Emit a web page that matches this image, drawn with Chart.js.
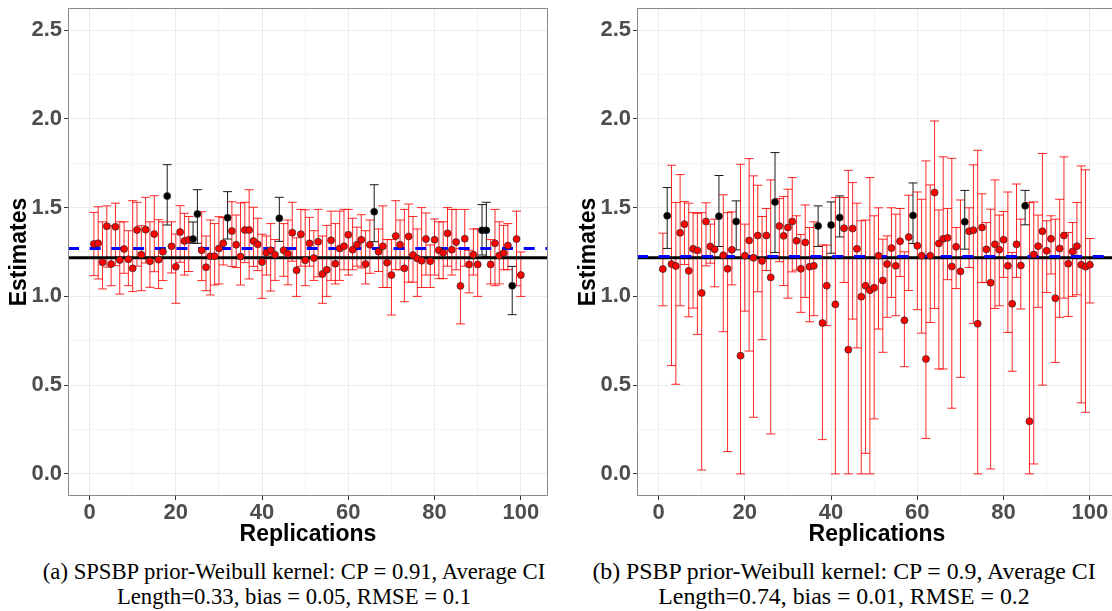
<!DOCTYPE html>
<html>
<head>
<meta charset="utf-8">
<script src="https://cdn.jsdelivr.net/npm/chart.js@4.4.1/dist/chart.umd.min.js"></script>
<style>
  html, body { margin: 0; padding: 0; background: #fff; overflow: hidden; }
  body { width: 1112px; height: 611px; position: relative; }
  .panel { position: absolute; top: 0; }
  #leftWrap { left: 0; }
  #rightWrap { left: 569px; }
  .caption {
    position: absolute;
    font-family: 'Liberation Serif', 'Times New Roman', serif;
    font-size: 22.7px;
    line-height: 25px;
    text-align: center;
    color: #000;
    white-space: nowrap;
  }
</style>
</head>
<body>
<div class="panel" id="leftWrap"><canvas id="leftChart" width="556" height="556"></canvas></div>
<div class="panel" id="rightWrap"><canvas id="rightChart" width="556" height="556"></canvas></div>
<div class="caption" style="left:0;width:588px;top:559px;">(a) SPSBP prior-Weibull kernel: CP = 0.91, Average CI<br>Length=0.33, bias = 0.05, RMSE = 0.1</div>
<div class="caption" style="left:579px;width:530px;top:559px;font-size:23.8px;">(b) PSBP prior-Weibull kernel: CP = 0.9, Average CI<br>Length=0.74, bias = 0.01, RMSE = 0.2</div>
<script>
// replication index 1..100
const reps = Array.from({ length: 100 }, (_, k) => k + 1);

const trueValue = 1.218;
const leftMean = 1.27;
const rightMean = 1.224;

// (a) SPSBP prior
const leftEst = [
  1.295, 1.299, 1.192, 1.395, 1.182, 1.392, 1.205, 1.267, 1.209, 1.158,
  1.374, 1.235, 1.376, 1.198, 1.351, 1.207, 1.252, 1.565, 1.282, 1.167,
  1.362, 1.312, 1.319, 1.323, 1.464, 1.26, 1.164, 1.226, 1.226, 1.27,
  1.299, 1.443, 1.368, 1.291, 1.224, 1.374, 1.374, 1.312, 1.293, 1.194,
  1.246, 1.26, 1.235, 1.44, 1.26, 1.24, 1.359, 1.147, 1.35, 1.203,
  1.299, 1.216, 1.308, 1.126, 1.15, 1.316, 1.184, 1.27, 1.282, 1.347,
  1.263, 1.291, 1.319, 1.182, 1.291, 1.477, 1.252, 1.282, 1.19, 1.12,
  1.34, 1.291, 1.158, 1.338, 1.233, 1.214, 1.201, 1.323, 1.198, 1.319,
  1.26, 1.246, 1.355, 1.263, 1.306, 1.059, 1.325, 1.18, 1.235, 1.18,
  1.372, 1.372, 1.18, 1.299, 1.23, 1.244, 1.286, 1.06, 1.323, 1.12
];
const leftLow = [
  1.117, 1.098, 1.042, 1.165, 1.06, 1.173, 1.013, 1.13, 1.06, 1.027,
  1.17, 1.032, 1.188, 1.051, 1.139, 1.045, 1.089, 1.402, 1.132, 0.961,
  1.192, 1.12, 1.14, 1.299, 1.299, 1.089, 1.032, 1.008, 1.064, 1.07,
  1.177, 1.323, 1.169, 1.162, 1.064, 1.19, 1.098, 1.169, 1.145, 0.989,
  1.12, 1.03, 1.09, 1.31, 1.113, 1.065, 1.198, 1.0, 1.17, 1.06,
  1.17, 1.09, 1.11, 0.961, 1.0, 1.09, 1.07, 1.09, 1.15, 1.12,
  1.15, 1.17, 1.16, 1.07, 1.13, 1.308, 1.14, 1.05, 1.05, 0.895,
  1.15, 1.15, 0.97, 1.08, 1.08, 1.0, 1.05, 1.12, 1.05, 1.12,
  1.1, 1.1, 1.17, 1.12, 1.15, 0.845, 1.17, 1.02, 1.12, 1.0,
  1.233, 1.225, 1.07, 1.06, 1.07, 1.15, 1.15, 0.897, 1.06, 1.0
];
const leftHigh = [
  1.473, 1.505, 1.42, 1.51, 1.40, 1.525, 1.42, 1.42, 1.37, 1.539,
  1.53, 1.398, 1.558, 1.42, 1.567, 1.432, 1.42, 1.742, 1.42, 1.351,
  1.511, 1.468, 1.45, 1.419, 1.601, 1.477, 1.34, 1.43, 1.41, 1.449,
  1.445, 1.59, 1.533, 1.458, 1.526, 1.53, 1.601, 1.502, 1.44, 1.35,
  1.34, 1.41, 1.32, 1.558, 1.41, 1.43, 1.53, 1.33, 1.49, 1.488,
  1.445, 1.37, 1.49, 1.34, 1.40, 1.48, 1.41, 1.48, 1.49, 1.49,
  1.44, 1.39, 1.46, 1.37, 1.43, 1.629, 1.38, 1.51, 1.32, 1.32,
  1.539, 1.43, 1.49, 1.52, 1.45, 1.38, 1.50, 1.47, 1.29, 1.436,
  1.42, 1.42, 1.50, 1.49, 1.49, 1.27, 1.49, 1.26, 1.38, 1.38,
  1.517, 1.53, 1.32, 1.49, 1.42, 1.40, 1.41, 1.169, 1.48, 1.25
];

// (b) PSBP prior
const rightEst = [
  1.154, 1.454, 1.182, 1.171, 1.358, 1.407, 1.144, 1.268, 1.259, 1.019,
  1.422, 1.281, 1.265, 1.452, 1.231, 1.155, 1.262, 1.422, 0.666, 1.229,
  1.315, 1.217, 1.343, 1.2, 1.343, 1.107, 1.532, 1.396, 1.341, 1.388,
  1.422, 1.313, 1.155, 1.304, 1.167, 1.172, 1.397, 0.85, 1.06, 1.402,
  0.955, 1.444, 1.384, 0.7, 1.382, 1.268, 0.998, 1.06, 1.035, 1.049,
  1.229, 1.09, 1.182, 1.272, 1.172, 1.311, 0.865, 1.334, 1.456, 1.285,
  1.229, 0.647, 1.229, 1.585, 1.298, 1.324, 1.33, 1.168, 1.279, 1.141,
  1.42, 1.367, 1.373, 0.846, 1.388, 1.265, 1.077, 1.293, 1.263, 1.319,
  1.172, 0.958, 1.293, 1.174, 1.51, 0.296, 1.236, 1.283, 1.367, 1.257,
  1.324, 0.99, 1.27, 1.343, 1.184, 1.253, 1.283, 1.178, 1.167, 1.178
];
const rightLow = [
  0.947, 1.27, 0.61, 0.505, 0.947, 1.18, 0.885, 0.934, 0.786, 0.022,
  1.172, 1.187, 1.054, 1.281, 0.801, 0.126, 1.065, 1.262, 0.0, 0.917,
  0.692, 0.319, 1.026, 0.756, 1.146, 0.225, 1.247, 1.195, 1.061, 0.99,
  1.138, 1.148, 0.91, 0.994, 0.857, 0.891, 1.281, 0.193, 0.835, 1.243,
  0.0, 1.335, 1.078, 0.0, 0.872, 0.71, 0.0, 0.116, 0.0, 0.31,
  0.816, 0.685, 0.882, 0.994, 0.891, 1.112, 0.604, 1.033, 1.298, 0.925,
  0.793, 0.2, 0.853, 0.932, 0.591, 0.591, 1.094, 0.37, 1.044, 0.544,
  1.266, 1.163, 0.848, 0.0, 1.078, 1.078, 0.028, 0.932, 0.947, 1.107,
  0.797, 0.578, 1.107, 0.929, 1.403, 0.0, 0.056, 0.938, 0.5, 1.022,
  1.126, 0.628, 0.882, 0.99, 0.887, 1.0, 1.009, 0.4, 0.347, 0.963
];
const rightHigh = [
  1.356, 1.613, 1.739, 1.529, 1.686, 1.534, 1.525, 1.472, 1.468, 1.472,
  1.527, 1.407, 1.435, 1.681, 1.572, 1.472, 1.476, 1.538, 1.744, 1.407,
  1.776, 1.679, 1.626, 1.45, 1.495, 1.656, 1.81, 1.551, 1.563, 1.604,
  1.669, 1.454, 1.349, 1.515, 1.388, 1.42, 1.51, 1.289, 1.289, 1.532,
  1.557, 1.566, 1.557, 1.71, 1.641, 1.525, 1.426, 1.43, 1.669, 1.454,
  1.499, 1.322, 1.341, 1.499, 1.463, 1.495, 1.251, 1.57, 1.639, 1.588,
  1.547, 1.763, 1.628, 1.988, 1.487, 1.786, 1.495, 1.778, 1.388, 1.543,
  1.597, 1.499, 1.741, 1.823, 1.578, 1.416, 1.491, 1.656, 1.458, 1.478,
  1.588, 1.247, 1.633, 1.435, 1.597, 1.529, 1.532, 1.458, 1.805, 1.426,
  1.454, 1.435, 1.547, 1.786, 1.36, 1.416, 1.529, 1.735, 1.713, 1.326
];

const X_MIN = -5, X_MAX = 106.3;
const Y_MIN = -0.1245, Y_MAX = 2.6245;

Chart.defaults.font.family = "'Liberation Sans', Arial, Helvetica, sans-serif";

const covers = (lo, hi) => lo <= trueValue && hi >= trueValue;

// vertical CI segments with caps, placed via the chart's scales
const errorBarPlugin = {
  id: 'errbars',
  beforeDatasetsDraw(chart, args, opts) {
    const { ctx, chartArea, scales: { x, y } } = chart;
    ctx.save();
    ctx.beginPath();
    ctx.rect(chartArea.left, chartArea.top, chartArea.width, chartArea.height);
    ctx.clip();
    ctx.lineWidth = 1;
    opts.low.forEach((lo, i) => {
      const hi = opts.high[i];
      const px = x.getPixelForValue(reps[i]);
      const yLo = y.getPixelForValue(lo);
      const yHi = y.getPixelForValue(hi);
      ctx.strokeStyle = covers(lo, hi) ? 'rgba(255,0,0,0.85)' : '#1a1a1a';
      ctx.beginPath();
      ctx.moveTo(px, yLo); ctx.lineTo(px, yHi);
      ctx.moveTo(px - 4.5, yLo); ctx.lineTo(px + 4.5, yLo);
      ctx.moveTo(px - 4.5, yHi); ctx.lineTo(px + 4.5, yHi);
      ctx.stroke();
    });
    ctx.restore();
  }
};

// grey panel frame like ggplot's panel.border
const panelBorder = {
  id: 'panelBorder',
  afterDraw(chart) {
    const { ctx, chartArea: a } = chart;
    ctx.save();
    ctx.strokeStyle = '#8a8a8a';
    ctx.lineWidth = 1;
    ctx.strokeRect(a.left + 0.5, a.top + 0.5, a.width - 1, a.height - 1);
    ctx.restore();
  }
};

function isMultiple(v, step) {
  return Math.abs(v / step - Math.round(v / step)) < 1e-6;
}

function makePanel(id, est, low, high, meanVal) {
  const ctx = document.getElementById(id).getContext('2d');
  const colors = est.map((_, i) => covers(low[i], high[i]) ? '#FF0000' : '#000000');

  new Chart(ctx, {
    type: 'scatter',
    data: {
      datasets: [
        {
          label: 'estimate',
          data: reps.map((r, i) => ({ x: r, y: est[i] })),
          pointBackgroundColor: colors,
          pointBorderColor: '#2a2a2a',
          pointBorderWidth: 0.7,
          pointRadius: 3.5,
          order: 0
        },
        {
          type: 'line',
          label: 'mean',
          data: [{ x: X_MIN, y: meanVal }, { x: X_MAX, y: meanVal }],
          borderColor: '#0000FF',
          borderWidth: 3,
          borderDash: [11, 10.7],
          pointRadius: 0,
          order: 1
        },
        {
          type: 'line',
          label: 'true',
          data: [{ x: X_MIN, y: trueValue }, { x: X_MAX, y: trueValue }],
          borderColor: '#000000',
          borderWidth: 3,
          pointRadius: 0,
          order: 2
        }
      ]
    },
    options: {
      responsive: false,
      animation: false,
      layout: { padding: { left: 6, right: 8, top: 8, bottom: 8 } },
      plugins: {
        legend: { display: false },
        tooltip: { enabled: false },
        errbars: { low: low, high: high }
      },
      scales: {
        x: {
          type: 'linear',
          min: X_MIN,
          max: X_MAX,
          border: { display: false },
          grid: {
            color: c => isMultiple(c.tick.value, 20) ? '#EBEBEB' : '#F4F4F4',
            tickColor: c => isMultiple(c.tick.value, 20) ? '#333333' : 'rgba(0,0,0,0)',
            tickLength: 4
          },
          ticks: {
            stepSize: 10,
            includeBounds: false,
            autoSkip: false,
            maxRotation: 0,
            padding: 0,
            color: '#4D4D4D',
            font: { size: 22, weight: 'bold' },
            callback: v => isMultiple(v, 20) ? String(Math.round(v)) : ''
          },
          title: {
            display: true,
            text: 'Replications',
            color: '#000',
            font: { size: 23, weight: 'bold' },
            padding: { top: 0, bottom: 0 }
          },
          afterFit: s => {
            s.height = 52;
            s.paddingLeft = 0;
            s.paddingRight = 0;
          }
        },
        y: {
          min: Y_MIN,
          max: Y_MAX,
          border: { display: false },
          grid: {
            color: c => isMultiple(c.tick.value, 0.5) ? '#EBEBEB' : '#F4F4F4',
            tickColor: c => isMultiple(c.tick.value, 0.5) ? '#333333' : 'rgba(0,0,0,0)',
            tickLength: 4
          },
          ticks: {
            stepSize: 0.25,
            includeBounds: false,
            autoSkip: false,
            padding: 2,
            color: '#4D4D4D',
            font: { size: 22, weight: 'bold' },
            callback: v => isMultiple(v, 0.5) ? v.toFixed(1) : ''
          },
          title: {
            display: true,
            text: 'Estimates',
            color: '#000',
            font: { size: 23, weight: 'bold' },
            padding: { top: 0, bottom: 0 }
          },
          afterFit: s => {
            s.width = 62;
            s.paddingTop = 0;
            s.paddingBottom = 0;
          }
        }
      }
    },
    plugins: [errorBarPlugin, panelBorder]
  });
}

makePanel('leftChart', leftEst, leftLow, leftHigh, leftMean);
makePanel('rightChart', rightEst, rightLow, rightHigh, rightMean);
</script>
</body>
</html>
